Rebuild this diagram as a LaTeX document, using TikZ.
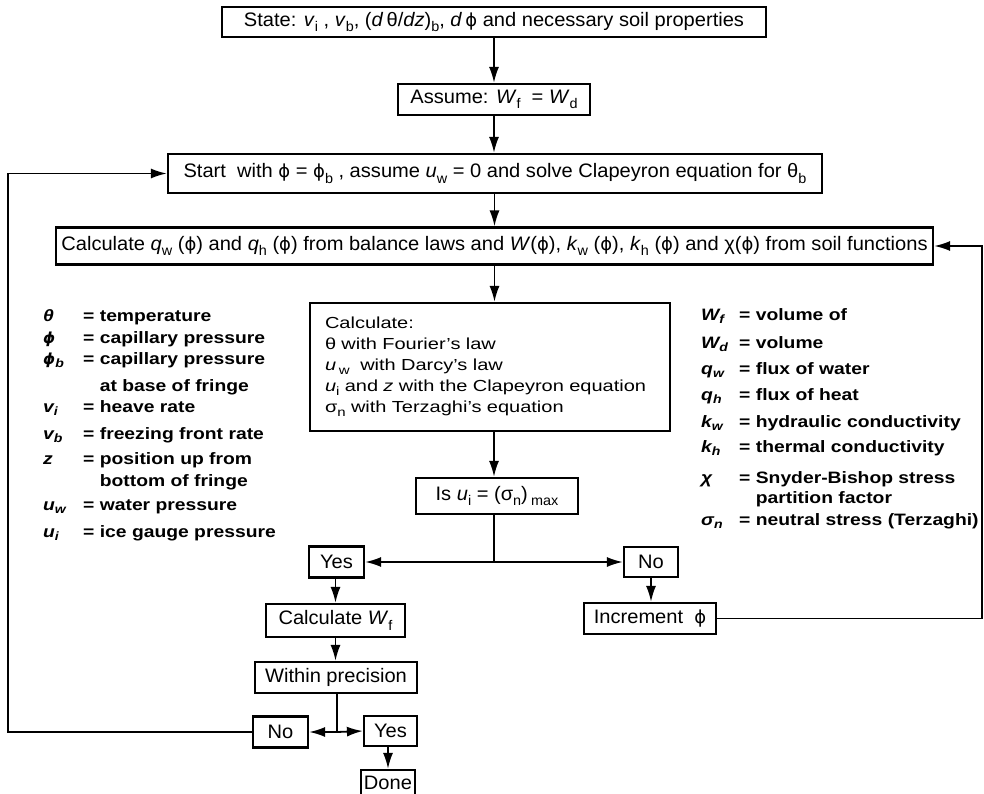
\documentclass[tikz,border=0pt]{standalone}
\usepackage{fontspec}
\setmainfont{Liberation Sans}
\newfontfamily\boxsf[FakeStretch=1.03]{Liberation Sans}
\newfontfamily\widesf[FakeStretch=1.25]{Liberation Sans}
\newfontfamily\legendsf[FakeStretch=1.17]{Liberation Sans}
\newfontfamily\phifont{DejaVu Sans}
\usetikzlibrary{arrows.meta,positioning}

\newcommand{\dn}[1]{\raisebox{-0.55ex}{\fontsize{14}{14}\selectfont #1}}
\newcommand{\dns}[1]{\raisebox{-0.45ex}{\fontsize{12}{12}\selectfont #1}}
\newcommand{\vphi}{{\phifont\addfontfeature{Scale=0.92}ϕ}}

\begin{document}
\begin{tikzpicture}[
    x=1pt, y=-1pt,
    stepbox/.style={draw, line width=2.2pt, inner sep=0pt, align=center, font=\boxsf\fontsize{19.5}{22}\selectfont},
    flow/.style={-{Latex[length=16pt,width=10pt]}, line width=1.8pt},
    plain/.style={line width=1.8pt},
    legsym/.style={anchor=base west, inner sep=0pt, font=\legendsf\bfseries\itshape\fontsize{16.5}{20}\selectfont},
    legtxt/.style={anchor=base west, inner sep=0pt, font=\legendsf\bfseries\fontsize{16.5}{20}\selectfont}
  ]
    \useasboundingbox (0,0) rectangle (984,794);

    % main column
    \node[stepbox, minimum width=544pt, minimum height=30pt] (state) at (494,22)
      {State: \textit{v}\dn{i} , \textit{v}\dn{b}, (\textit{d}\,θ/\textit{dz})\dn{b}, \textit{d}\,\vphi{} and necessary soil properties};
    \node[stepbox, minimum width=192pt, minimum height=31pt] (assume) at (494,99.5)
      {Assume: \textit{W}\dn{f}~ = \textit{W}\dn{d}};
    \node[stepbox, minimum width=654pt, minimum height=39pt] (start) at (495,173.5)
      {Start~ with \vphi{} = \vphi\dn{b} , assume \textit{u}\dn{w} = 0 and solve Clapeyron equation for θ\dn{b}};
    \node[stepbox, minimum width=877pt, minimum height=37pt] (balance) at (494.5,246)
      {Calculate \textit{q}\dn{w} (\vphi) and \textit{q}\dn{h} (\vphi) from balance laws and \textit{W}(\vphi), \textit{k}\dn{w} (\vphi), \textit{k}\dn{h} (\vphi) and χ(\vphi) from soil functions};
    \node[draw, line width=2.2pt, minimum height=128pt, text width=330pt, inner xsep=15pt, align=left,
      font=\widesf\fontsize{16}{21}\selectfont] (solve) at (490,367)
      {Calculate:\\
       θ with Fourier’s law\\
       \textit{u}\,\dns{w}~ with Darcy’s law\\
       \textit{u}\dns{i} and \textit{z} with the Clapeyron equation\\
       σ\dns{n} with Terzaghi’s equation};
    \node[stepbox, minimum width=162pt, minimum height=36pt] (ismax) at (497,496)
      {Is \textit{u}\dn{i} = (σ\dn{n})\,\dn{max}};

    % branches
    \coordinate (fork1) at (494,562);
    \node[stepbox, minimum width=55pt, minimum height=31pt] (yesA) at (336.5,562) {Yes};
    \node[stepbox, minimum width=54pt, minimum height=30pt] (noA) at (651,562) {No};
    \node[stepbox, minimum width=139pt, minimum height=33pt] (calcwf) at (335.5,620.5) {Calculate \textit{W}\dn{f}};
    \node[stepbox, minimum width=132pt, minimum height=31pt] (incr) at (650,618.5) {Increment~ \vphi};
    \node[stepbox, minimum width=162pt, minimum height=31pt] (within) at (336,677.5) {Within precision};
    \coordinate (fork2) at (337,732);
    \node[stepbox, minimum width=55pt, minimum height=31pt] (noB) at (280.5,732) {No};
    \node[stepbox, minimum width=53pt, minimum height=30pt] (yesB) at (390.5,731) {Yes};
    \node[stepbox, minimum width=54pt, minimum height=26pt] (done) at (388,783) {Done};
    \coordinate (leftrail) at (8,173.5);
    \coordinate (rightrail) at (982,246);

    \draw[flow] (state.south -| assume) -- (assume.north);
    \draw[flow] (assume.south) -- (assume.south |- start.north);
    \draw[flow] (start.south -| balance) -- (balance.north);
    \draw[flow] (balance.south) -- (balance.south |- solve.north);
    \draw[flow] (solve.south -| fork1) -- (fork1 |- ismax.north);
    \draw[plain] (ismax.south -| fork1) -- (fork1);
    \draw[flow] (fork1) -- (yesA.east);
    \draw[flow] (fork1) -- (noA.west);
    \draw[flow] (yesA.south -| calcwf) -- (calcwf.north);
    \draw[flow] (noA.south) -- (noA.south |- incr.north);
    \draw[flow] (calcwf.south) -- (calcwf.south |- within.north);
    \draw[plain] (within.south -| fork2) -- (fork2);
    \draw[flow] (fork2) -- (noB.east);
    \draw[flow] (fork2) -- (yesB.west);
    \draw[flow] (yesB.south -| done) -- (done.north);
    \draw[flow] (noB.west) -| (leftrail) -- (start.west);
    \draw[flow] (incr.east) -| (rightrail) -- (balance.east);

    % symbol lists
    \foreach \sym/\txt/\yy [count=\i] in {
        θ/{= temperature}/321, \vphi/{= capillary pressure}/343, {\vphi\dns{b}}/{= capillary pressure}/364,
        {}/{\phantom{= }at base of fringe}/391, {v\dns{i}}/{= heave rate}/412,
        {v\dns{b}}/{= freezing front rate}/439, z/{= position up from}/464,
        {}/{\phantom{= }bottom of fringe}/486, {u\dns{w}}/{= water pressure}/510,
        {u\dns{i}}/{= ice gauge pressure}/537} {
      \node[legsym] (legLs\i) at (43,\yy) {\sym};
      \node[legtxt] (legLt\i) at (83,\yy) {\txt};
    }
    \foreach \sym/\txt/\yy [count=\i] in {
        {W\dns{f}}/{= volume of}/320, {W\dns{d}}/{= volume}/348, {q\dns{w}}/{= flux of water}/374,
        {q\dns{h}}/{= flux of heat}/400, {k\dns{w}}/{= hydraulic conductivity}/427,
        {k\dns{h}}/{= thermal conductivity}/452, χ/{= Snyder-Bishop stress}/483,
        {}/{\phantom{= }partition factor}/503, {σ\dns{n}}/{= neutral stress (Terzaghi)}/525} {
      \node[legsym] (legRs\i) at (701,\yy) {\sym};
      \node[legtxt] (legRt\i) at (739,\yy) {\txt};
    }
  \end{tikzpicture}
\end{document}
